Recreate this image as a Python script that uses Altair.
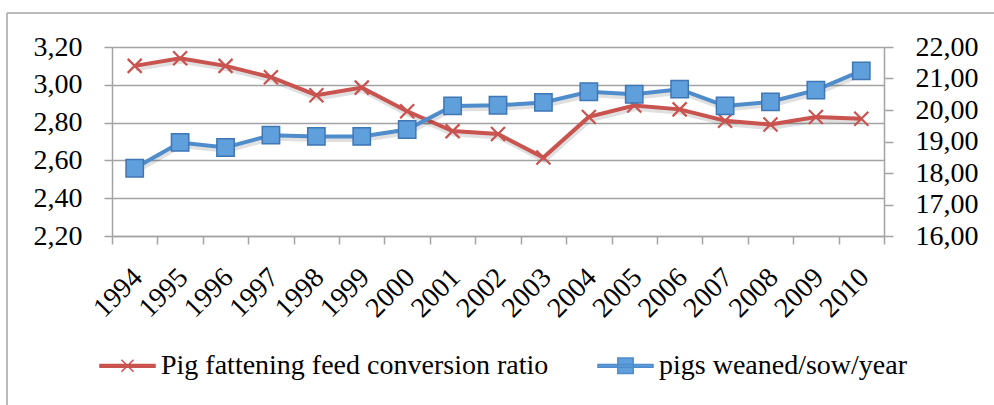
import altair as alt
import pandas as pd

years = [str(y) for y in range(1994, 2011)]
fcr = [3.10, 3.14, 3.10, 3.04, 2.945, 2.985, 2.86, 2.755, 2.74, 2.615, 2.83, 2.89, 2.87, 2.81, 2.79, 2.83, 2.82]
weaned = [18.15, 18.97, 18.81, 19.20, 19.16, 19.16, 19.38, 20.13, 20.15, 20.24, 20.58, 20.50, 20.66, 20.13, 20.26, 20.63, 21.24]
series = ["Pig fattening feed conversion ratio", "pigs weaned/sow/year"]
left_ticks = [2.2, 2.4, 2.6, 2.8, 3.0, 3.2]
right_ticks = [16, 17, 18, 19, 20, 21, 22]

RED = "#c9534f"
BLUE = "#4f8ccb"
BLUE_FILL = "#5f9fdc"
BLUE_EDGE = "#3f76b4"
GRAY = "#a3a3a3"
FONT = "Liberation Serif"
FS = 28

df_fcr = pd.DataFrame({"year": years, "value": fcr, "series": series[0]})
df_w = pd.DataFrame({"year": years, "value": weaned, "series": series[1]})
legend_df = pd.DataFrame({"series": series})
one = pd.DataFrame({"a": [0]})

comma = "replace(format(datum.value, '.2f'), '.', ',')"

x_enc = alt.X(
    "year:N", sort=years,
    scale=alt.Scale(type="band", paddingInner=0, paddingOuter=0),
    axis=alt.Axis(title=None, labelAngle=-45, labelAlign="right", labelBaseline="middle",
                  tickBand="extent", tickSize=8, tickColor=GRAY, tickWidth=1.5,
                  domainColor=GRAY, domainWidth=1.5, labelFont=FONT, labelFontSize=FS,
                  labelColor="black", labelPadding=29, labelOffset=3, grid=False),
)

y_left = alt.Y(
    "value:Q",
    scale=alt.Scale(domain=[2.2, 3.2], nice=False, zero=False),
    axis=alt.Axis(title=None, values=left_ticks, labelExpr=comma, grid=True, gridColor=GRAY,
                  gridWidth=1.5, tickSize=8, tickColor=GRAY, tickWidth=1.5, domainColor=GRAY,
                  domainWidth=1.5, labelFont=FONT, labelFontSize=FS, labelColor="black",
                  labelPadding=22),
)
y_right = alt.Y(
    "value:Q",
    scale=alt.Scale(domain=[16, 22], nice=False, zero=False),
    axis=alt.Axis(title=None, orient="right", values=right_ticks, labelExpr=comma, grid=False,
                  tickSize=9, tickColor=GRAY, tickWidth=1.5, domainColor=GRAY, domainWidth=1.5,
                  labelFont=FONT, labelFontSize=FS, labelColor="black", labelPadding=22),
)

x_path = "M-1,-1L1,1M-1,1L1,-1"

red_shadow = alt.Chart(df_fcr).mark_line(color="#000000", opacity=0.12, strokeWidth=5,
                                         xOffset=1, yOffset=3).encode(x=x_enc, y=y_left)
red_line = alt.Chart(df_fcr).mark_line(color=RED, strokeWidth=4).encode(x=x_enc, y=y_left)
red_pts = alt.Chart(df_fcr).mark_point(shape=x_path, size=196, filled=False, color=RED,
                                       strokeWidth=2.2, opacity=1).encode(x=x_enc, y=y_left)
left = alt.layer(red_shadow, red_line, red_pts)

blue_shadow = alt.Chart(df_w).mark_line(color="#000000", opacity=0.12, strokeWidth=5,
                                        xOffset=1, yOffset=3).encode(x=x_enc, y=y_right)
blue_line = alt.Chart(df_w).mark_line(color=BLUE, strokeWidth=4).encode(x=x_enc, y=y_right)
blue_pts = alt.Chart(df_w).mark_square(size=300, fill=BLUE_FILL, stroke=BLUE_EDGE,
                                       strokeWidth=1.5, opacity=1).encode(x=x_enc, y=y_right)
right = alt.layer(blue_shadow, blue_line, blue_pts)

path_red = "M-1,-0.05L1,-0.05L1,0.05L-1,0.05Z M-0.22,-0.22L0.22,0.22 M-0.22,0.22L0.22,-0.22"
path_blue = "M-1,-0.05L1,-0.05L1,0.05L-1,0.05Z M-0.28,-0.28L0.28,-0.28L0.28,0.28L-0.28,0.28Z"

leg = alt.Legend(title=None, orient="none", legendX=-13, legendY=290, direction="horizontal",
                 symbolSize=3025, symbolOpacity=1, symbolStrokeWidth=1.5, labelFont=FONT,
                 labelFontSize=FS, labelColor="black", labelOffset=5, columnPadding=46,
                 padding=0, labelLimit=0)

legend_layer = alt.Chart(legend_df).mark_point(opacity=0, filled=True, strokeWidth=1.5).encode(
    fill=alt.Fill("series:N", scale=alt.Scale(domain=series, range=[RED, BLUE_FILL]), legend=leg),
    stroke=alt.Stroke("series:N", scale=alt.Scale(domain=series, range=[RED, BLUE]), legend=leg),
    shape=alt.Shape("series:N", scale=alt.Scale(domain=series, range=[path_red, path_blue]), legend=leg),
)

frame_left = alt.Chart(one).mark_rule(color=GRAY, strokeWidth=1.5).encode(
    x=alt.value(-105), y=alt.value(-34), y2=alt.value(400))
frame_top = alt.Chart(one).mark_rule(color=GRAY, strokeWidth=1.5).encode(
    x=alt.value(-105), x2=alt.value(1000), y=alt.value(-34))

chart = alt.layer(left, right, legend_layer, frame_left, frame_top).resolve_scale(
    y="independent"
).properties(
    width=772, height=189,
    autosize=alt.AutoSizeParams(type="none"),
    padding={"left": 112, "top": 47, "right": 110, "bottom": 169},
    background="white",
).configure_view(stroke=None)

chart.save("out.html", embed_options={"renderer": "svg", "actions": False})
